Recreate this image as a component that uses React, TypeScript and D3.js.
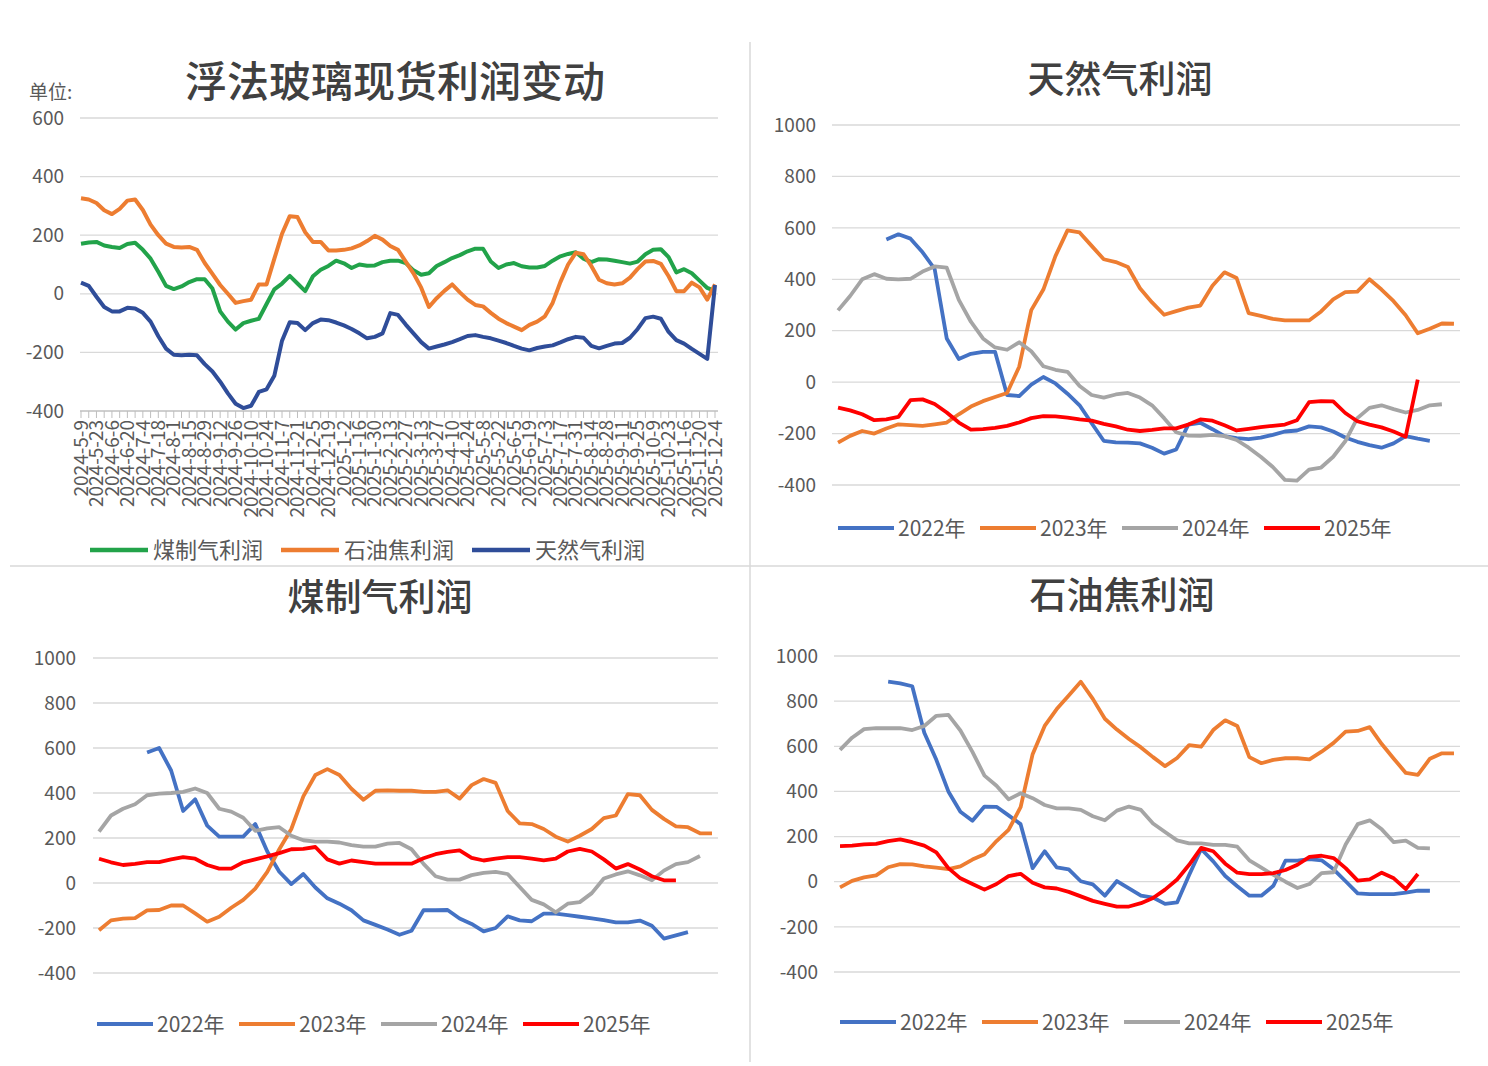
import { useEffect, useRef } from "react";
import * as d3 from "d3";

// 浮法玻璃现货利润变动: 每周数据, 横轴每两周一个标签
const glassDates = [
  "2024-5-9", "2024-5-23", "2024-6-6", "2024-6-20", "2024-7-4", "2024-7-18", "2024-8-1",
  "2024-8-15", "2024-8-29", "2024-9-12", "2024-9-26", "2024-10-10", "2024-10-24", "2024-11-7",
  "2024-11-21", "2024-12-5", "2024-12-19", "2025-1-2", "2025-1-16", "2025-1-30", "2025-2-13",
  "2025-2-27", "2025-3-13", "2025-3-27", "2025-4-10", "2025-4-24", "2025-5-8", "2025-5-22",
  "2025-6-5", "2025-6-19", "2025-7-3", "2025-7-17", "2025-7-31", "2025-8-14", "2025-8-28",
  "2025-9-11", "2025-9-25", "2025-10-9", "2025-10-23", "2025-11-6", "2025-11-20", "2025-12-4",
];

const coalGasProfit = [
  171, 175, 177, 165, 160, 156, 170, 174, 150, 120,
  75, 27, 16, 25, 40, 50, 50, 18, -60, -95,
  -122, -100, -92, -85, -35, 15, 35, 61, 35, 9,
  60, 82, 95, 113, 104, 88, 100, 96, 97, 108,
  113, 113, 105, 80, 65, 70, 95, 108, 122, 132,
  145, 154, 154, 110, 88, 100, 105, 94, 90, 90,
  95, 113, 128, 136, 142, 120, 108, 118, 117, 113,
  108, 103, 110, 135, 150, 152, 125, 73, 84, 70,
  45, 20, 9,
];

const petCokeProfit = [
  326, 322, 310, 285, 272, 290, 318, 322, 286, 236,
  200, 171, 160, 158, 160, 150, 105, 68, 30, 0,
  -31, -25, -20, 32, 32, 119, 205, 265, 262, 210,
  177, 177, 148, 148, 150, 155, 165, 180, 198, 185,
  163, 150, 110, 70, 21, -45, -15, 10, 32, 5,
  -20, -38, -43, -65, -85, -100, -112, -124, -106, -95,
  -77, -31, 40, 100, 140, 135, 95, 48, 36, 32,
  36, 55, 85, 110, 112, 102, 60, 9, 9, 38,
  22, -20, 32,
];

const natGasProfit = [
  38, 27, -10, -45, -60, -60, -48, -50, -65, -95,
  -145, -187, -208, -210, -208, -210, -240, -265, -300, -340,
  -375, -390, -382, -335, -326, -280, -160, -97, -100, -124,
  -100, -88, -90, -98, -108, -120, -135, -152, -147, -135,
  -66, -72, -105, -135, -165, -187, -180, -173, -165, -155,
  -144, -141, -147, -152, -160, -168, -178, -187, -193, -185,
  -180, -176, -166, -155, -147, -150, -178, -186, -178, -170,
  -168, -150, -120, -83, -78, -85, -130, -158, -170, -188,
  -205, -222, 30,
];

const glassSeriesNames = ["煤制气利润", "石油焦利润", "天然气利润"];
const glassTicks = [-400, -200, 0, 200, 400, 600];

// 年度对比: 每年 52 周
const yearNames = ["2022年", "2023年", "2024年", "2025年"];
const yearTicks = [-400, -200, 0, 200, 400, 600, 800, 1000];

const natGas2022 = [
  null, null, null, null, 555, 575, 558, 505, 440, 170,
  90, 110, 118, 118, -50, -54, -10, 20, -5, -45,
  -90, -160, -228, -234, -235, -238, -255, -278, -262, -165,
  -158, -183, -210, -218, -222, -216, -205, -192, -188, -172,
  -176, -192, -215, -232, -245, -255, -238, -210, -220, -228,
  null, null,
];
const natGas2023 = [
  -235, -209, -190, -200, -180, -164, -167, -170, -164, -157,
  -125, -95, -74, -58, -42, 60, 280, 360, 490, 590,
  582, 530, 478, 467, 448, 365, 310, 262, 276, 290,
  298, 375, 427, 405, 268, 258, 246, 240, 240, 240,
  275, 322, 350, 352, 400, 360, 315, 260, 190, 208,
  228, 227,
];
const natGas2024 = [
  279, 335, 400, 420, 402, 400, 402, 430, 450, 445,
  320, 235, 170, 135, 126, 155, 120, 62, 48, 40,
  -15, -50, -60, -48, -42, -60, -90, -140, -195, -208,
  -209, -205, -210, -225, -255, -290, -330, -380, -383, -340,
  -332, -290, -230, -140, -100, -90, -105, -118, -108, -90,
  -86, null,
];
const natGas2025 = [
  -99, -110, -125, -148, -145, -135, -70, -67, -85, -118,
  -157, -185, -183, -178, -170, -157, -140, -132, -133, -138,
  -145, -150, -162, -172, -185, -190, -186, -180, -180, -165,
  -145, -150, -168, -188, -182, -175, -170, -165, -148, -78,
  -74, -75, -120, -152, -165, -176, -192, -212, 10, null,
  null, null,
];

const coalGas2022 = [
  null, null, null, null, 580, 600, 500, 320, 372, 255,
  206, 206, 206, 262, 140, 50, -5, 40, -20, -68,
  -92, -121, -166, -186, -207, -230, -212, -121, -121, -120,
  -158, -182, -215, -200, -148, -166, -170, -136, -136, -143,
  -150, -157, -165, -175, -175, -167, -190, -247, -233, -218,
  null, null,
];
const coalGas2023 = [
  -210, -166, -158, -156, -122, -120, -100, -100, -135, -172,
  -150, -110, -75, -25, 49, 150, 240, 385, 480, 506,
  480, 419, 370, 410, 412, 410, 410, 405, 405, 412,
  375, 435, 462, 445, 320, 265, 262, 240, 206, 184,
  210, 240, 288, 300, 395, 390, 325, 285, 252, 248,
  221, 221,
];
const coalGas2024 = [
  228, 300, 330, 350, 390, 397, 400, 405, 420, 400,
  330, 317, 290, 232, 243, 248, 210, 190, 184, 184,
  180, 168, 162, 162, 175, 178, 150, 85, 30, 15,
  15, 35, 45, 49, 40, -18, -75, -95, -130, -92,
  -85, -45, 20, 38, 52, 34, 12, 55, 84, 93,
  120, null,
];
const coalGas2025 = [
  108, 92, 80, 85, 93, 93, 105, 115, 108, 80,
  64, 64, 92, 105, 118, 133, 150, 152, 160, 105,
  86, 100, 93, 86, 86, 86, 86, 110, 128, 138,
  145, 112, 100, 108, 115, 115, 108, 101, 108, 140,
  152, 140, 105, 64, 84, 60, 30, 12, 12, null,
  null, null,
];

const petCoke2022 = [
  null, null, null, null, 886, 879, 866, 660, 540, 400,
  310, 270, 333, 332, 294, 255, 60, 135, 64, 55,
  2, -12, -62, 3, -30, -62, -70, -98, -92, 30,
  145, 90, 25, -20, -62, -62, -18, 93, 93, 100,
  95, 55, 2, -52, -55, -55, -55, -48, -40, -40,
  null, null,
];
const petCoke2023 = [
  -25, 4, 19, 28, 64, 78, 77, 68, 62, 56,
  68, 98, 122, 180, 230, 330, 565, 690, 765, 825,
  886, 810, 722, 674, 632, 595, 552, 512, 548, 605,
  598, 672, 715, 690, 552, 525, 540, 547, 547, 542,
  576, 615, 665, 668, 685, 610, 545, 482, 473, 545,
  569, 569,
];
const petCoke2024 = [
  584, 638, 676, 680, 680, 680, 672, 690, 735, 739,
  670, 575, 470, 425, 365, 392, 370, 340, 325, 325,
  318, 290, 272, 315, 333, 318, 258, 220, 183, 170,
  170, 163, 163, 155, 95, 62, 30, 0, -28, -10,
  38, 42, 165, 255, 272, 232, 175, 182, 150, 148,
  null, null,
];
const petCoke2025 = [
  158, 160, 165, 168, 180, 188, 175, 160, 130, 60,
  15, -10, -35, -10, 25, 35, -5, -25, -30, -45,
  -65, -85, -98, -110, -110, -95, -72, -35, 10, 75,
  150, 135, 80, 40, 34, 34, 38, 52, 75, 110,
  115, 105, 60, 5, 10, 40, 15, -33, 34, null,
  null, null,
];

const glassColors = ["#22a34a", "#ed7d31", "#2f4d99"];
const yearColors = ["#4472c4", "#ed7d31", "#a5a5a5", "#ff0000"];
const font = '"Noto Sans CJK SC", "Noto Sans", sans-serif';
const textColor = "#595959";
const gridColor = "#d9d9d9";

type Sel = d3.Selection<SVGSVGElement, unknown, null, undefined>;

interface YearPanel {
  title: string;
  series: (number | null)[][];
  left: number;
  right: number;
  top: number;
  bottom: number;
  labelX: number;
  titleX: number;
  titleY: number;
  legendX: number;
  legendY: number;
}

function drawYearPanel(svg: Sel, p: YearPanel) {
  const g = svg.append("g");
  const x = d3.scalePoint<number>().domain(d3.range(52)).range([p.left, p.right]).padding(0.5);
  const y = d3.scaleLinear().domain([-400, 1000]).range([p.bottom, p.top]);

  g.append("text")
    .attr("x", p.titleX).attr("y", p.titleY)
    .attr("text-anchor", "middle")
    .attr("font-size", 37).attr("font-weight", 500)
    .attr("fill", "#404040").attr("font-family", font)
    .text(p.title);

  g.selectAll("line.grid")
    .data(yearTicks)
    .join("line")
    .attr("x1", p.left).attr("x2", p.right)
    .attr("y1", d => y(d)).attr("y2", d => y(d))
    .attr("stroke", gridColor).attr("stroke-width", 1.3);

  g.selectAll("text.tick")
    .data(yearTicks)
    .join("text")
    .attr("x", p.labelX).attr("y", d => y(d))
    .attr("dy", "0.35em").attr("text-anchor", "end")
    .attr("font-size", 19).attr("fill", textColor).attr("font-family", font)
    .text(d => d);

  const line = d3.line<number | null>()
    .defined(d => d !== null)
    .x((_, i) => x(i)!)
    .y(d => y(d as number));

  p.series.forEach((s, k) => {
    g.append("path")
      .attr("d", line(s))
      .attr("fill", "none")
      .attr("stroke", yearColors[k])
      .attr("stroke-width", 3.8)
      .attr("stroke-linejoin", "round");
  });

  yearNames.forEach((name, k) => {
    const lx = p.legendX + k * 142;
    g.append("line")
      .attr("x1", lx).attr("x2", lx + 56)
      .attr("y1", p.legendY).attr("y2", p.legendY)
      .attr("stroke", yearColors[k]).attr("stroke-width", 4);
    g.append("text")
      .attr("x", lx + 60).attr("y", p.legendY)
      .attr("dy", "0.36em")
      .attr("font-size", 21).attr("fill", textColor).attr("font-family", font)
      .text(name);
  });
}

export default function App() {
  const ref = useRef<SVGSVGElement | null>(null);

  useEffect(() => {
    if (!ref.current) return;
    const svg = d3.select(ref.current);
    svg.selectAll("*").remove();

    svg.append("rect").attr("width", 1488).attr("height", 1066).attr("fill", "#fff");

    // panel separators
    svg.append("line")
      .attr("x1", 750).attr("x2", 750).attr("y1", 42).attr("y2", 1062)
      .attr("stroke", gridColor).attr("stroke-width", 1.5);
    svg.append("line")
      .attr("x1", 10).attr("x2", 1488).attr("y1", 566).attr("y2", 566)
      .attr("stroke", gridColor).attr("stroke-width", 1.5);

    // ---- 浮法玻璃现货利润变动 ----
    const g = svg.append("g");
    const x = d3.scalePoint<number>().domain(d3.range(coalGasProfit.length)).range([81, 715]);
    const y = d3.scaleLinear().domain([-400, 600]).range([411, 118]);

    g.append("text")
      .attr("x", 395).attr("y", 97)
      .attr("text-anchor", "middle")
      .attr("font-size", 42).attr("font-weight", 500)
      .attr("fill", "#404040").attr("font-family", font)
      .text("浮法玻璃现货利润变动");
    g.append("text")
      .attr("x", 29).attr("y", 99)
      .attr("font-size", 19).attr("fill", textColor).attr("font-family", font)
      .text("单位:");

    g.selectAll("line.grid")
      .data(glassTicks)
      .join("line")
      .attr("x1", 80).attr("x2", 718)
      .attr("y1", d => y(d)).attr("y2", d => y(d))
      .attr("stroke", d => (d === -400 ? "#bfbfbf" : gridColor))
      .attr("stroke-width", 1.3);

    g.selectAll("text.tick")
      .data(glassTicks)
      .join("text")
      .attr("x", 64).attr("y", d => y(d))
      .attr("dy", "0.35em").attr("text-anchor", "end")
      .attr("font-size", 19).attr("fill", textColor).attr("font-family", font)
      .text(d => d);

    g.selectAll("line.xtick")
      .data(x.domain())
      .join("line")
      .attr("x1", d => x(d)!).attr("x2", d => x(d)!)
      .attr("y1", 411).attr("y2", 418)
      .attr("stroke", "#bfbfbf").attr("stroke-width", 1);

    glassDates.forEach((d, k) => {
      g.append("text")
        .attr("transform", `translate(${x(k * 2)},420) rotate(-90)`)
        .attr("text-anchor", "end").attr("dy", "0.35em")
        .attr("font-size", 19).attr("fill", textColor).attr("font-family", font)
        .text(d);
    });

    const line = d3.line<number>().x((_, i) => x(i)!).y(d => y(d));
    [coalGasProfit, petCokeProfit, natGasProfit].forEach((s, k) => {
      g.append("path")
        .attr("d", line(s))
        .attr("fill", "none")
        .attr("stroke", glassColors[k])
        .attr("stroke-width", 4)
        .attr("stroke-linejoin", "round");
    });

    glassSeriesNames.forEach((name, k) => {
      const lx = 90 + k * 191;
      g.append("line")
        .attr("x1", lx).attr("x2", lx + 58)
        .attr("y1", 550).attr("y2", 550)
        .attr("stroke", glassColors[k]).attr("stroke-width", 4.5);
      g.append("text")
        .attr("x", lx + 63).attr("y", 550)
        .attr("dy", "0.36em")
        .attr("font-size", 22).attr("fill", textColor).attr("font-family", font)
        .text(name);
    });

    // ---- 年度对比面板 ----
    drawYearPanel(svg, {
      title: "天然气利润",
      series: [natGas2022, natGas2023, natGas2024, natGas2025],
      left: 832, right: 1460, top: 125, bottom: 485,
      labelX: 816, titleX: 1120, titleY: 93,
      legendX: 838, legendY: 528,
    });
    drawYearPanel(svg, {
      title: "煤制气利润",
      series: [coalGas2022, coalGas2023, coalGas2024, coalGas2025],
      left: 93, right: 718, top: 658, bottom: 973,
      labelX: 76, titleX: 380, titleY: 611,
      legendX: 97, legendY: 1024,
    });
    drawYearPanel(svg, {
      title: "石油焦利润",
      series: [petCoke2022, petCoke2023, petCoke2024, petCoke2025],
      left: 834, right: 1460, top: 656, bottom: 972,
      labelX: 818, titleX: 1122, titleY: 609,
      legendX: 840, legendY: 1022,
    });
  }, []);

  return (
    <svg
      ref={ref}
      width={1488}
      height={1066}
      style={{ position: "absolute", left: 0, top: 0 }}
    />
  );
}
